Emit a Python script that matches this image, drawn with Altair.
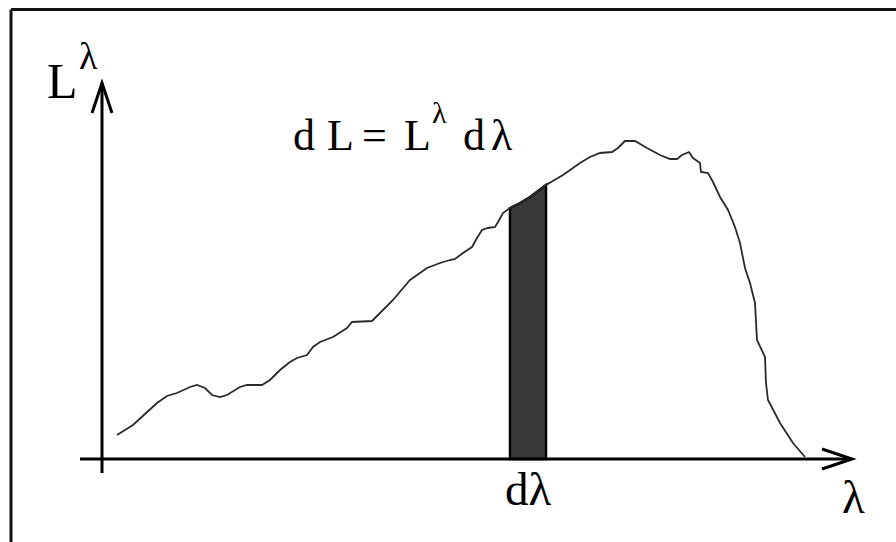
import altair as alt
import pandas as pd

# Spectral luminance curve L^lambda against wavelength (arbitrary units)
lam = [15, 31, 55, 65, 75, 88, 95, 103, 110, 118, 125, 138, 145, 160, 168,
       178, 188, 195, 205, 211, 218, 231, 245, 250, 270, 278, 291, 308, 325, 338,
       348, 353, 361, 370, 375, 380, 386, 393, 396, 401, 408, 418, 428, 444, 461,
       478, 488, 498, 510, 516, 523, 533, 545, 558, 568, 575, 580, 587, 591, 598,
       599, 606, 611, 618, 626, 633, 638, 641, 643, 648, 653, 655, 663, 664, 666,
       678, 691, 703]
lum = [24, 34, 56, 63, 66, 72, 74, 71, 64, 62, 64, 72, 74, 74, 79,
       89, 97, 101, 104, 112, 117, 122, 131, 137, 138, 146, 159, 179, 191, 196,
       199, 200, 206, 212, 221, 229, 231, 232, 237, 246, 251, 256, 262, 274, 284,
       296, 302, 306, 307, 311, 318, 318, 311, 304, 300, 300, 304, 307, 301, 296,
       287, 286, 277, 262, 249, 232, 216, 201, 191, 176, 156, 119, 102, 76, 59,
       36, 16, 2]

# The shaded strip d(lambda)
band_start = 408
band_end = 444

# Axes extents (data units) and frame position
x_axis_from, x_axis_to = -22, 750
y_axis_from, y_axis_to = -14, 376
frame_left, frame_top, frame_right, frame_bottom = -91, 449.5, 794, -83

# Text pieces: glyph, left position, baseline, font size
label_text = ["L", "\u03bb", "d", "L", "=", "L", "\u03bb", "d", "\u03bb", "d\u03bb", "\u03bb"]
label_lam = [-55, -23, 191, 225, 260, 302, 330, 361, 389, 403, 740]
label_lum = [361, 390, 309, 309, 309, 309, 336, 309, 309, -46, -54]
label_size = [50, 38, 44, 44, 44, 44, 30, 44, 44, 47, 47]

X = alt.Scale(domain=[-102, 794], nice=False, zero=False)
Y = alt.Scale(domain=[-83, 459], nice=False, zero=False)

curve = pd.DataFrame({"lam": lam, "L": lum})

line = alt.Chart(curve).mark_line(color="#2a2a2a", strokeWidth=1.8).encode(
    x=alt.X("lam:Q", scale=X, axis=None),
    y=alt.Y("L:Q", scale=Y, axis=None),
)

band = alt.Chart(curve).transform_filter(
    (alt.datum.lam >= band_start) & (alt.datum.lam <= band_end)
).mark_area(fill="#3a3a3a", stroke="#000000", strokeWidth=2.5).encode(
    x=alt.X("lam:Q", scale=X, axis=None),
    y=alt.Y("L:Q", scale=Y, axis=None),
    y2=alt.datum(0),
)

axes_df = pd.DataFrame({
    "x1": [x_axis_from, 0],
    "x2": [x_axis_to, 0],
    "y1": [0, y_axis_from],
    "y2": [0, y_axis_to],
})
axes = alt.Chart(axes_df).mark_rule(color="#000000", strokeWidth=3).encode(
    x=alt.X("x1:Q", scale=X, axis=None),
    x2="x2:Q",
    y=alt.Y("y1:Q", scale=Y, axis=None),
    y2="y2:Q",
)

heads_df = pd.DataFrame({"x": [x_axis_to, 0], "y": [0, y_axis_to], "ang": [0, 270]})
heads = alt.Chart(heads_df).mark_point(
    shape="M -1 -0.333 L 0 0 L -1 0.333",
    filled=False,
    color="#000000",
    strokeWidth=3,
    opacity=1,
    size=3600,
).encode(
    x=alt.X("x:Q", scale=X, axis=None),
    y=alt.Y("y:Q", scale=Y, axis=None),
    angle=alt.Angle("ang:Q", scale=None),
)

frame_df = pd.DataFrame({
    "x1": [frame_left, frame_left],
    "x2": [frame_right, frame_left],
    "y1": [frame_top, frame_top],
    "y2": [frame_top, frame_bottom],
})
frame = alt.Chart(frame_df).mark_rule(color="#111111", strokeWidth=3).encode(
    x=alt.X("x1:Q", scale=X, axis=None),
    x2="x2:Q",
    y=alt.Y("y1:Q", scale=Y, axis=None),
    y2="y2:Q",
)

labels_df = pd.DataFrame({"t": label_text, "x": label_lam, "y": label_lum, "s": label_size})
labels = alt.Chart(labels_df).mark_text(
    font="Liberation Serif", align="left", baseline="alphabetic", color="#000000"
).encode(
    x=alt.X("x:Q", scale=X, axis=None),
    y=alt.Y("y:Q", scale=Y, axis=None),
    text="t:N",
    size=alt.Size("s:Q", scale=None),
)

chart = alt.layer(frame, band, line, axes, heads, labels).properties(
    width=896, height=542, padding=0, autosize="none", background="#ffffff"
).configure_view(strokeWidth=0)

chart.save("out.html", embed_options={"renderer": "svg", "actions": False})
